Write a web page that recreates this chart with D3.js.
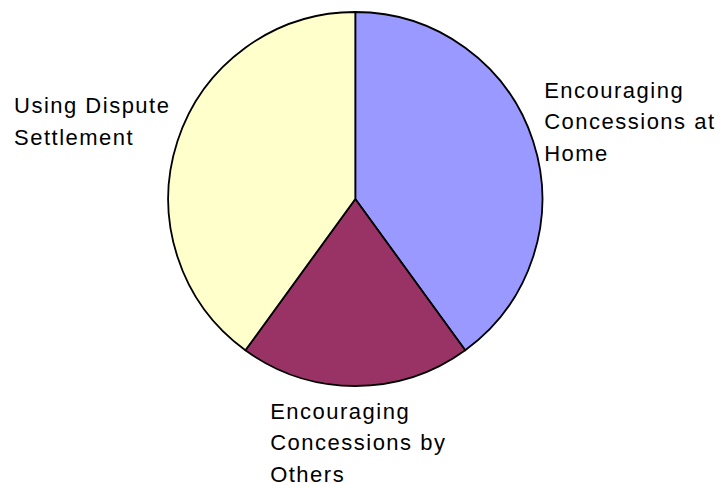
<!DOCTYPE html>
<html>
<head>
<meta charset="utf-8">
<script src="https://cdn.jsdelivr.net/npm/d3@7"></script>
<style>
  body { margin: 0; background: #fff; }
  .lbl { font-family: 'Liberation Sans', Arial, sans-serif; font-size: 22px; letter-spacing: 1.5px; fill: #000; }
</style>
</head>
<body>
<div id="chart"></div>
<script>
// slices, clockwise from 12 o'clock
const categories = ['Encouraging Concessions at Home', 'Encouraging Concessions by Others', 'Using Dispute Settlement'];
const values = [40, 20, 40];
const colors = ['#9999ff', '#993366', '#ffffcc'];
// how each label wraps
const labelLines = [
  ['Encouraging', 'Concessions at', 'Home'],
  ['Encouraging', 'Concessions by', 'Others'],
  ['Using Dispute', 'Settlement']
];

const width = 723, height = 485;
const cx = 355.3, cy = 199, radius = 187;
const lineH = 31.5;

const svg = d3.select('#chart').append('svg')
  .attr('width', width)
  .attr('height', height);

const data = categories.map((c, i) => ({ name: c, value: values[i], color: colors[i], lines: labelLines[i] }));

const pie = d3.pie().sort(null).value(d => d.value);
const arc = d3.arc().innerRadius(0).outerRadius(radius);
const edge = d3.arc().innerRadius(radius).outerRadius(radius);

const g = svg.append('g').attr('transform', `translate(${cx},${cy})`);
const arcs = pie(data);

g.selectAll('path.slice')
  .data(arcs)
  .enter()
  .append('path')
  .attr('class', 'slice')
  .attr('d', arc)
  .style('fill', d => d.data.color)
  .style('stroke', '#000')
  .style('stroke-width', 1.8)
  .style('stroke-linejoin', 'round');

// labels sit outside the pie, next to the middle of each slice
arcs.forEach(d => {
  const [px, py] = edge.centroid(d);
  const mid = (d.startAngle + d.endAngle) / 2;
  const sx = Math.sin(mid), sy = -Math.cos(mid);
  const t = g.append('text').attr('class', 'lbl');
  d.data.lines.forEach((s, i) => {
    t.append('tspan').attr('x', 0).attr('y', i * lineH).text(s);
  });
  const w = t.node().getBBox().width;
  const n = d.data.lines.length;
  let x, y;
  if (Math.abs(sx) < 0.3) {
    // below / above
    x = px - w / 2 + 3;
    y = sy > 0 ? py + 32.5 : py - 20 - (n - 1) * lineH;
  } else {
    x = sx > 0 ? px + 11 : px - w - 7;
    y = py - 12 - (n - 1) * lineH / 2;
  }
  t.attr('transform', `translate(${x},${y})`);
});
</script>
</body>
</html>
